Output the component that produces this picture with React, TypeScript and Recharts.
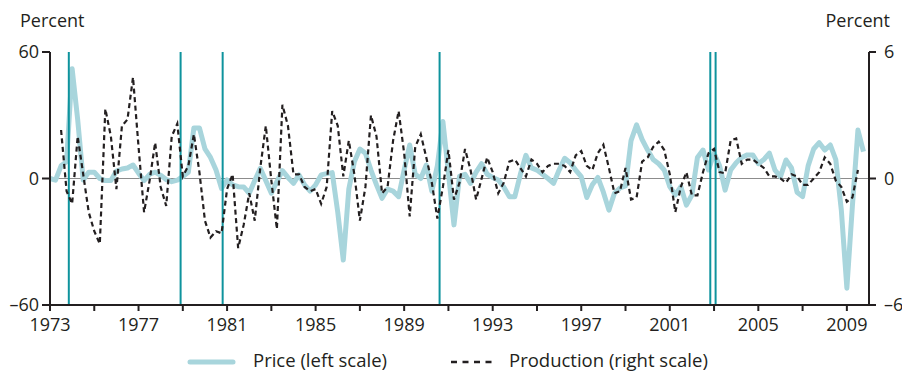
import { LineChart, Line, XAxis, YAxis, ReferenceLine, Legend } from 'recharts'

const startYear = 1973

// quarterly percent change, left scale (1973Q1 onward)
const price70s = [
    0, -0.8, 6, 8,
    52, 28, -0.7, 3,
    3, 0, -1, -1,
    3.5, 4.5, 5, 6.4,
    2.5, -1, 2, 3,
    1.5, -0.5, -1.5, -0.8,
    1, 3, 24, 24,
]
const price80s = [
    14, 10, 4, -4.7,
    -0.7, -3, -3.9, -4,
    -7, -1, 4.8, -1,
    -7, -1.5, 3.7, 0.5,
    -2.3, 1.7, -3, -6,
    -3, 1.7, 2.3, 2.8,
    -16, -38.7, -5, 8,
    14, 12, 4, -3,
    -9.4, -5, -6, -8.6,
    4, 15.9, 2, 0,
]
const price90s = [
    6.4, -6, 6, 27,
    2.5, -22, 1, 2,
    -2.3, 3, 7, 2,
    0.5, -0.7, -4, -8.6,
    -8.6, 2, 11, 5,
    4, 2, 0, -2.3,
    4, 9.6, 7.5, 4,
    0.9, -9, -3, 0.5,
    -6.5, -15, -7, -4.5,
    -3.5, 18, 25.4, 18.5,
]
const price00s = [
    13.5, 9, 7, 4,
    -3.9, -7.8, -3.9, -12.6,
    -7.8, 10, 13.5, 4,
    12, 6, -5.5, 4,
    7.5, 10, 11.2, 11.2,
    7, 9, 12, 4,
    0.9, 8.8, 5, -6.5,
    -8.6, 6, 14, 17,
    13.5, 15.9, 9, -15,
    -52, -13, 23, 12.7,
]

// quarterly percent change, right scale
const production70s = [
    null, null, 2.3, -0.6,
    -1.2, 2.0, 0.2, -1.6,
    -2.5, -3.1, 3.3, 2.0,
    -0.5, 2.5, 2.8, 4.8,
    1.5, -1.6, -0.1, 1.7,
    -0.4, -1.3, 2.0, 2.6,
    0.1, 0.6, 2.1, 0.3,
]
const production80s = [
    -2.0, -2.8, -2.5, -2.6,
    -0.5, 0.2, -3.3, -2.2,
    -0.7, -2.0, 0.5, 2.5,
    -0.1, -2.4, 3.5, 2.5,
    0.2, 0.2, -0.4, -0.6,
    -0.5, -1.2, -0.4, 3.2,
    2.5, 0.1, 1.8, 0.2,
    -2.0, -0.4, 3.0, 2.0,
    -0.7, -0.4, 1.8, 3.2,
    1.2, -1.8, 1.5, 2.1,
]
const production90s = [
    1.0, -0.2, -1.9, -0.4,
    1.35, -1.0, -0.2, 1.4,
    0.4, -1.0, 0.0, 1.0,
    0.3, -0.7, -0.2, 0.8,
    0.9, 0.5, 0.1, 0.9,
    0.7, 0.3, 0.6, 0.7,
    0.7, 0.6, 0.3, 1.1,
    1.3, 0.6, 0.4, 1.2,
    1.6, 0.5, -0.7, -0.6,
    0.5, -1.0, -0.9, 0.8,
]
const production00s = [
    1.0, 1.5, 1.75, 1.35,
    0.2, -1.6, -0.4, 0.3,
    -0.8, -0.8, 0.3, 1.2,
    1.4, 0.3, 0.25, 1.8,
    1.9, 0.7, 0.9, 0.9,
    0.7, 0.5, 0.1, 0.1,
    0.0, -0.2, 0.2, 0.1,
    -0.3, -0.3, 0.0, 0.3,
    1.0, 0.7, -0.1, -0.4,
    -1.1, -0.9, 0.4, null,
]

// oil supply disruptions (vertical markers)
const shockDates = [1973.85, 1978.9, 1980.8, 1990.6, 2002.83, 2003.07]

const xTicks = [1973, 1975, 1977, 1979, 1981, 1983, 1985, 1987, 1989, 1991, 1993, 1995, 1997, 1999, 2001, 2003, 2005, 2007, 2009]
const leftTicks = [-60, 0, 60]
const rightTicks = [-6, 0, 6]

const price = [...price70s, ...price80s, ...price90s, ...price00s]
const production = [...production70s, ...production80s, ...production90s, ...production00s]
const data = price.map((p, i) => ({ t: startYear + i / 4, price: p, production: production[i] }))

const FONT = '"Open Sans", sans-serif'
const INK = '#231f20'
const LIGHT_BLUE = '#a8d5dc'
const TEAL = '#0e939d'

const minus = (v: number) => (v < 0 ? `\u2013${Math.abs(v)}` : `${v}`)

const XTick = (props: any) => {
    const { x, y, payload } = props
    if ((payload.value - startYear) % 4 !== 0) return <g />
    return (
        <text x={x} y={y + 20} textAnchor="middle" fill={INK} fontSize={18} fontFamily={FONT}>
            {payload.value}
        </text>
    )
}

const LegendBox = () => (
    <div style={{ position: 'relative', width: 902, height: 24, fontFamily: FONT, fontSize: 18.5, color: INK }}>
        <svg width={902} height={24} style={{ position: 'absolute', left: 0, top: 0 }}>
            <line x1={190} x2={233} y1={14} y2={14} stroke={LIGHT_BLUE} strokeWidth={5} strokeLinecap="round" />
            <line x1={451} x2={492} y1={14} y2={14} stroke={INK} strokeWidth={2.4} strokeDasharray="6 5.5" />
        </svg>
        <span style={{ position: 'absolute', left: 253, top: 0, lineHeight: '24px', whiteSpace: 'nowrap' }}>Price (left scale)</span>
        <span style={{ position: 'absolute', left: 509, top: 0, lineHeight: '24px', whiteSpace: 'nowrap' }}>Production (right scale)</span>
    </div>
)

export default function App() {
    return (
        <div style={{ position: 'absolute', left: 0, top: 0, width: 902, height: 372, background: '#fff' }}>
            <span style={{ position: 'absolute', left: 20, top: 11, fontFamily: FONT, fontSize: 18, lineHeight: '18px', color: INK }}>Percent</span>
            <span style={{ position: 'absolute', right: 12, top: 11, fontFamily: FONT, fontSize: 18, lineHeight: '18px', color: INK }}>Percent</span>
            <LineChart width={902} height={372} data={data} margin={{ top: 52, right: 0, bottom: 0, left: 0 }}>
                <XAxis
                    dataKey="t"
                    type="number"
                    domain={[1973, 2010]}
                    ticks={xTicks}
                    interval={0}
                    height={67}
                    tickSize={6}
                    tickMargin={0}
                    tick={XTick}
                    axisLine={{ stroke: INK, strokeWidth: 2 }}
                    tickLine={{ stroke: INK, strokeWidth: 2 }}
                />
                <YAxis
                    yAxisId="left"
                    orientation="left"
                    domain={[-60, 60]}
                    ticks={leftTicks}
                    width={50}
                    tickSize={8}
                    tickMargin={3}
                    tickFormatter={minus}
                    tick={{ fill: INK, fontSize: 18, fontFamily: FONT }}
                    axisLine={{ stroke: INK, strokeWidth: 2 }}
                    tickLine={{ stroke: INK, strokeWidth: 2 }}
                />
                <YAxis
                    yAxisId="right"
                    orientation="right"
                    domain={[-6, 6]}
                    ticks={rightTicks}
                    width={33}
                    tickSize={7}
                    tickMargin={8}
                    tickFormatter={minus}
                    tick={{ fill: INK, fontSize: 18, fontFamily: FONT, textAnchor: 'start' }}
                    axisLine={{ stroke: INK, strokeWidth: 2 }}
                    tickLine={{ stroke: INK, strokeWidth: 2 }}
                />
                <ReferenceLine yAxisId="left" y={0} stroke="#8c8c8c" strokeWidth={1} />
                <Line
                    yAxisId="left"
                    dataKey="price"
                    type="linear"
                    stroke={LIGHT_BLUE}
                    strokeWidth={5}
                    strokeLinejoin="round"
                    dot={false}
                    activeDot={false}
                    isAnimationActive={false}
                />
                {shockDates.map(d => (
                    <ReferenceLine key={d} yAxisId="left" x={d} stroke={TEAL} strokeWidth={2} />
                ))}
                <Line
                    yAxisId="right"
                    dataKey="production"
                    type="linear"
                    stroke={INK}
                    strokeWidth={2.2}
                    strokeDasharray="5 3.5"
                    dot={false}
                    activeDot={false}
                    isAnimationActive={false}
                />
                <Legend
                    verticalAlign="middle"
                    align="center"
                    content={LegendBox}
                    wrapperStyle={{ top: 348, left: 0, width: 902, height: 24 }}
                />
            </LineChart>
        </div>
    )
}
